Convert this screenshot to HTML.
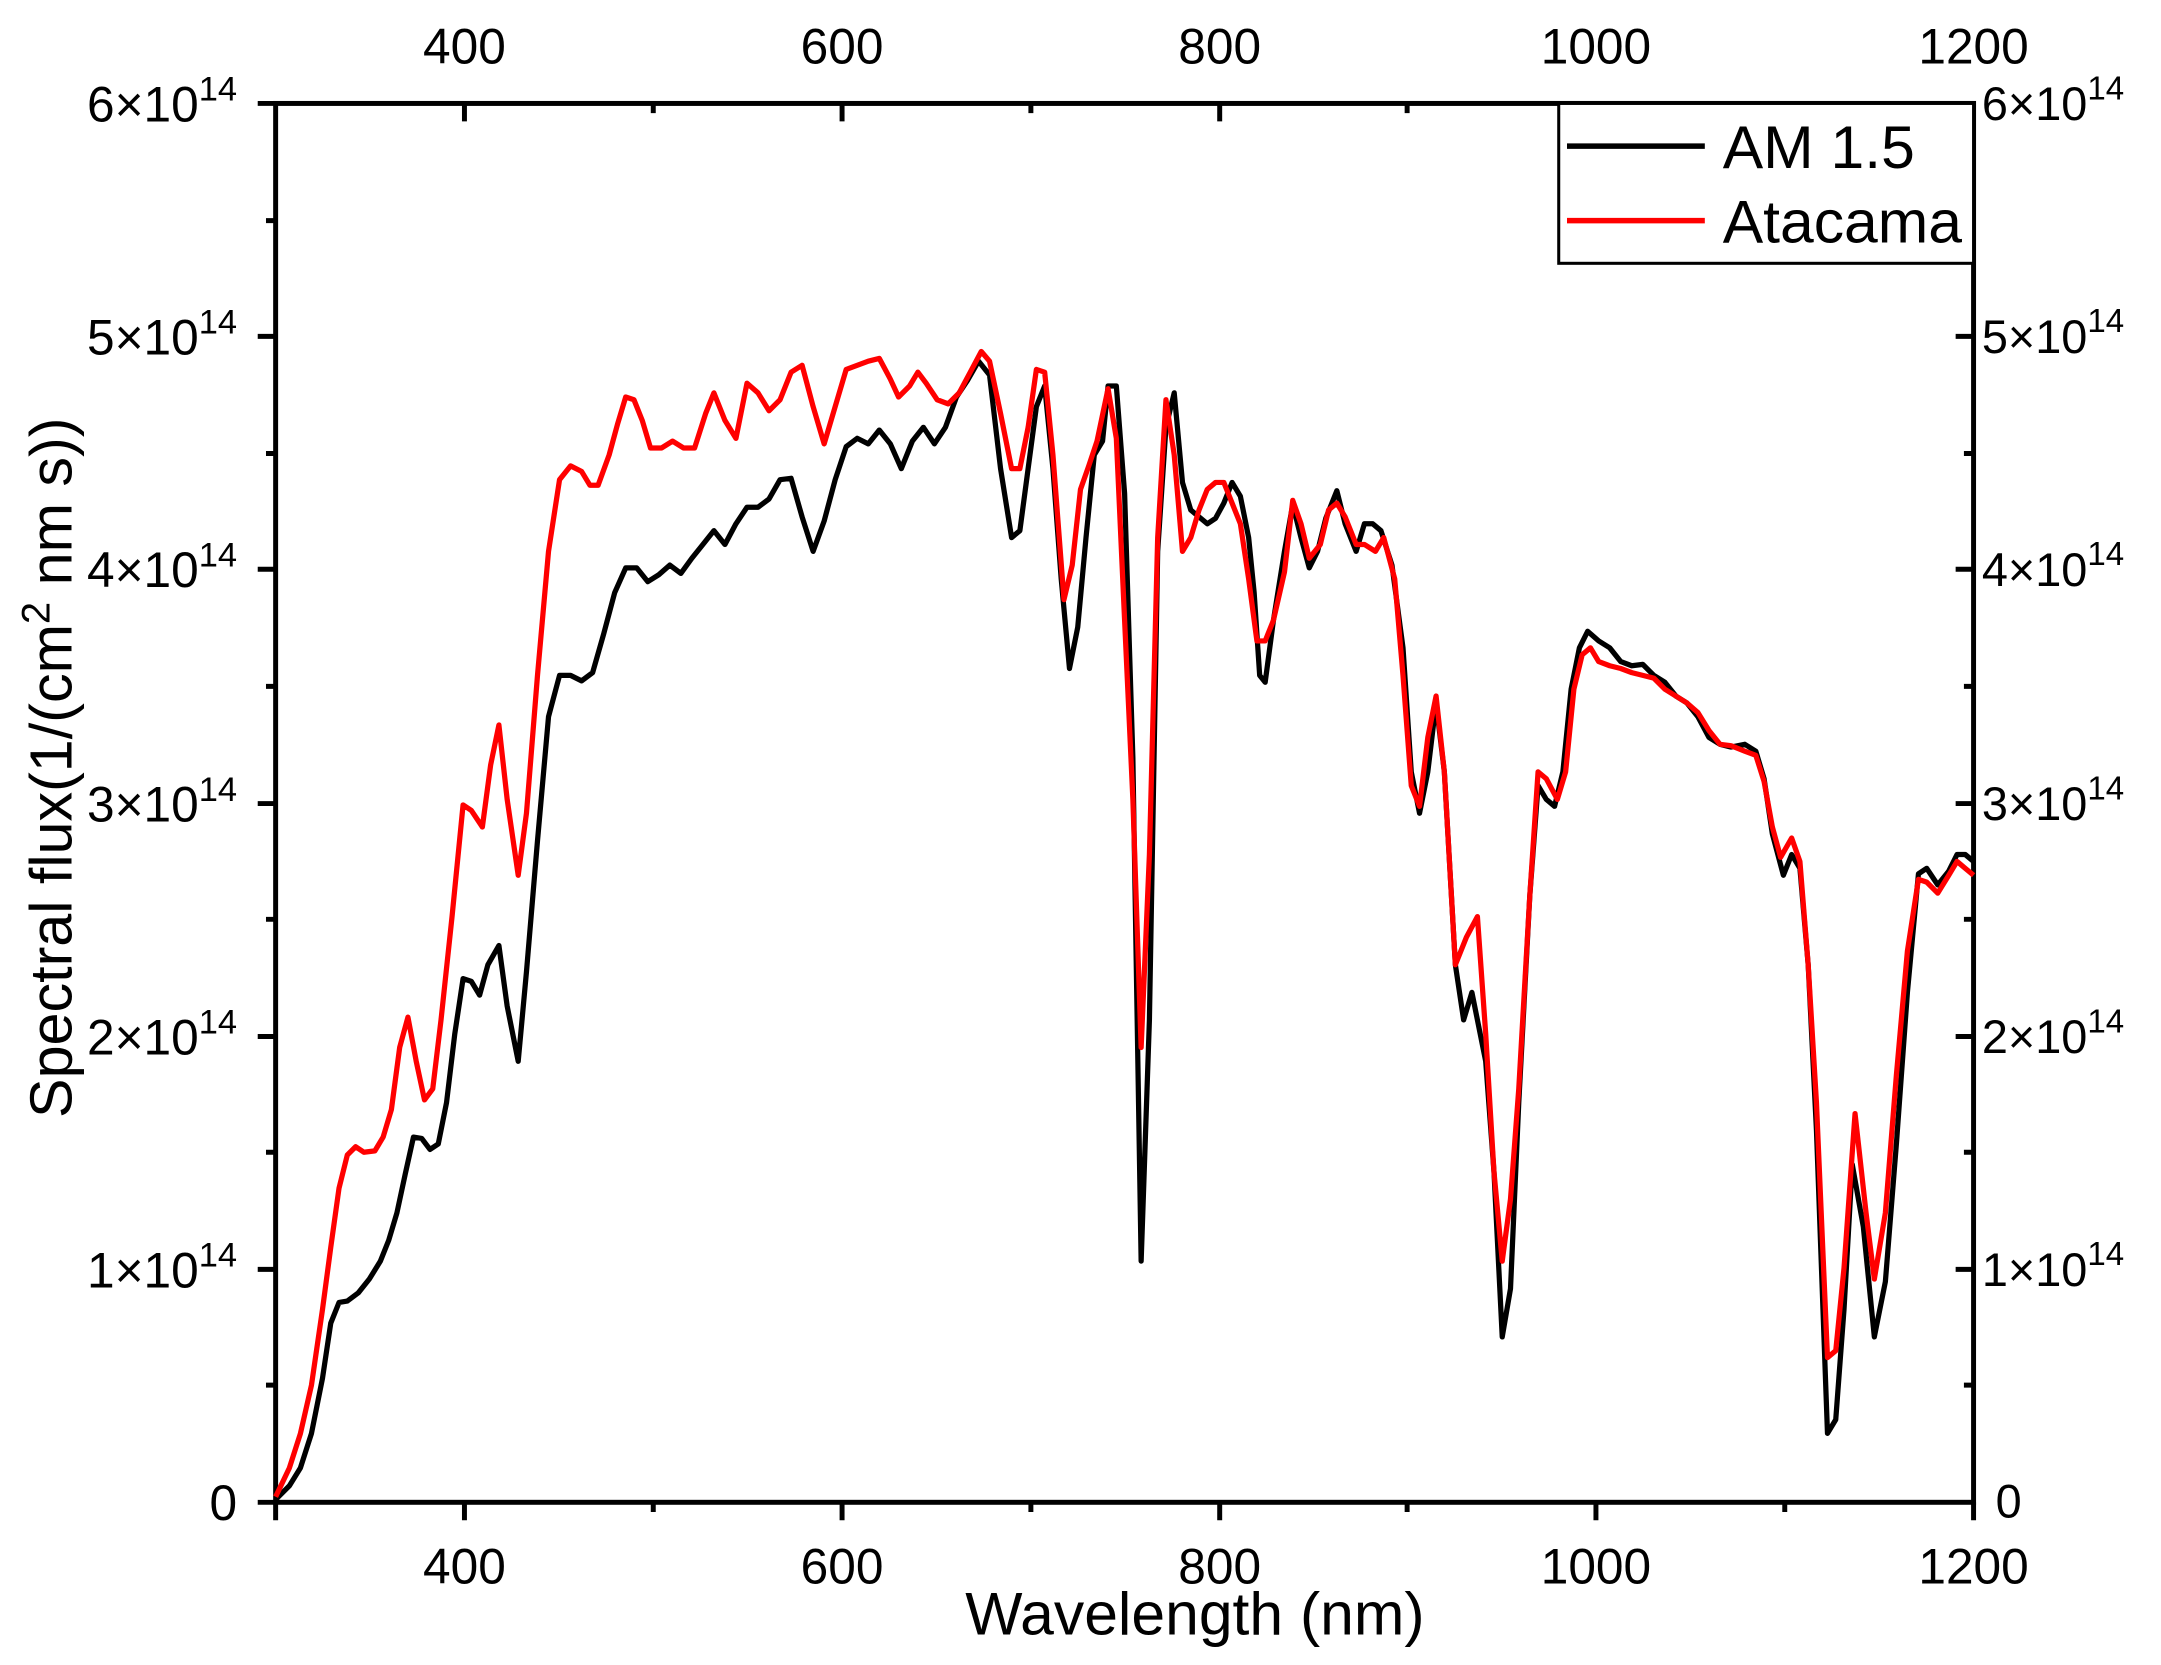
<!DOCTYPE html>
<html><head><meta charset="utf-8"><style>html,body{margin:0;padding:0;background:#fff}svg{display:block}text{font-family:"Liberation Sans",Arial,sans-serif;fill:#000}</style></head><body>
<svg width="2161" height="1665" viewBox="0 0 1568 1208" xmlns="http://www.w3.org/2000/svg">
<g stroke="#000" stroke-width="3.6" fill="none">
<rect x="200" y="75" width="1232" height="1015"/>
<path d="M200 1090v13M337 1090v13M474 1090v7M611 1090v13M748 1090v7M885 1090v13M1021 1090v7M1158 1090v13M1295 1090v7M1432 1090v13"/>
<path d="M337 75v13M474 75v7M611 75v13M748 75v7M885 75v13M1021 75v7M1158 75v13M1295 75v7"/>
<path d="M187 1090h13M193 1005h7M187 921h13M193 836h7M187 752h13M193 667h7M187 583h13M193 498h7M187 413h13M193 329h7M187 244h13M193 160h7M187 75h13"/>
<path d="M1419 921h13M1425 1005h7M1425 836h7M1419 752h13M1425 667h7M1419 583h13M1425 498h7M1419 413h13M1425 329h7M1419 244h13M1425 160h7"/>
</g>
<g font-size="36" text-anchor="middle">
<text x="337" y="46">400</text><text x="611" y="46">600</text><text x="885" y="46">800</text><text x="1158" y="46">1000</text><text x="1432" y="46">1200</text>
<text x="337" y="1149">400</text><text x="611" y="1149">600</text><text x="885" y="1149">800</text><text x="1158" y="1149">1000</text><text x="1432" y="1149">1200</text>
</g>
<g font-size="36" text-anchor="end">
<text x="172" y="1103">0</text>
<text x="172" y="934">1×10<tspan font-size="25" dy="-15">14</tspan></text>
<text x="172" y="765">2×10<tspan font-size="25" dy="-15">14</tspan></text>
<text x="172" y="596">3×10<tspan font-size="25" dy="-15">14</tspan></text>
<text x="172" y="426">4×10<tspan font-size="25" dy="-15">14</tspan></text>
<text x="172" y="257">5×10<tspan font-size="25" dy="-15">14</tspan></text>
<text x="172" y="88">6×10<tspan font-size="25" dy="-15">14</tspan></text>
</g>
<g font-size="34" text-anchor="start">
<text x="1448" y="1101">0</text>
<text x="1438" y="933">1×10<tspan font-size="24" dy="-15">14</tspan></text>
<text x="1438" y="764">2×10<tspan font-size="24" dy="-15">14</tspan></text>
<text x="1438" y="595">3×10<tspan font-size="24" dy="-15">14</tspan></text>
<text x="1438" y="425">4×10<tspan font-size="24" dy="-15">14</tspan></text>
<text x="1438" y="256">5×10<tspan font-size="24" dy="-15">14</tspan></text>
<text x="1438" y="87">6×10<tspan font-size="24" dy="-15">14</tspan></text>
</g>
<text x="867" y="1186" font-size="44" text-anchor="middle">Wavelength (nm)</text>
<text transform="translate(52,557) rotate(-90)" font-size="43" text-anchor="middle">Spectral flux(1/(cm<tspan font-size="29" dy="-16">2</tspan><tspan dy="16"> nm s))</tspan></text>
<g fill="none" stroke-width="3.8" stroke-linejoin="round">
<polyline stroke="#000" points="200,1088 210,1078 218,1065 226,1040 234,1000 240,960 246,945 252,944 260,938 268,928 276,915 282,900 288,880 294,852 300,825 306,826 312,834 318,830 324,800 330,750 336,710 342,712 348,722 354,700 362,686 368,730 376,770 382,705 390,610 398,520 406,490 414,490 422,494 430,488 438,460 446,430 454,412 462,412 470,422 478,417 486,410 494,416 502,405 510,395 518,385 526,395 534,380 542,368 550,368 558,362 566,348 574,347 582,375 590,400 598,378 606,348 614,324 622,318 630,322 638,312 646,322 654,340 662,320 670,310 678,322 686,310 694,288 702,276 710,262 718,272 726,340 734,390 740,385 746,340 752,295 758,280 764,340 770,420 776,485 782,455 788,390 794,330 800,320 804,280 810,280 816,358 822,550 828,915 834,740 840,400 846,310 852,285 858,350 864,370 870,375 876,380 882,376 888,365 894,350 900,360 906,390 910,430 914,490 918,495 924,450 932,400 938,366 944,390 950,412 956,400 962,376 970,356 976,380 984,400 990,380 996,380 1002,385 1010,410 1018,470 1024,560 1030,590 1036,560 1042,510 1048,560 1056,700 1062,740 1068,720 1078,770 1084,850 1090,970 1096,935 1102,800 1110,650 1116,570 1122,580 1128,585 1134,560 1140,500 1146,470 1152,458 1160,465 1168,470 1176,480 1184,483 1192,482 1200,490 1208,495 1216,505 1224,510 1232,520 1240,535 1248,540 1256,542 1266,540 1274,545 1280,565 1286,605 1294,635 1300,620 1306,630 1312,700 1318,820 1326,1040 1332,1030 1338,950 1344,845 1352,890 1360,970 1368,930 1376,830 1384,720 1392,634 1398,630 1406,642 1414,632 1420,620 1426,620 1432,625"/>
<polyline stroke="#f00" points="200,1086 210,1065 218,1040 226,1005 234,950 240,905 246,862 252,838 258,832 264,836 272,835 278,825 284,805 290,760 296,738 302,770 308,798 314,790 320,740 328,665 336,584 342,588 350,600 356,555 362,526 368,580 376,635 382,590 390,490 398,400 406,348 414,338 422,342 428,352 434,352 442,330 448,308 454,288 460,290 466,305 472,325 480,325 488,320 496,325 504,325 512,300 518,285 526,305 534,318 542,278 550,285 558,298 566,290 574,270 582,265 590,295 598,322 606,295 614,268 622,265 630,262 638,260 646,275 652,288 660,280 666,270 672,278 680,290 688,293 696,285 704,270 712,255 718,262 726,300 734,340 740,340 746,310 752,268 758,270 764,330 772,435 778,410 784,355 790,338 796,320 804,282 810,318 816,450 822,580 828,760 834,620 840,390 846,290 852,330 858,400 864,390 870,370 876,355 882,350 888,350 894,365 900,380 906,420 912,465 918,465 924,450 932,415 938,363 944,380 950,405 958,395 964,370 970,365 976,375 984,395 990,395 998,400 1004,390 1012,420 1018,490 1024,570 1030,585 1036,535 1042,505 1048,560 1056,700 1064,680 1072,665 1078,750 1084,850 1090,915 1096,870 1102,790 1110,650 1116,560 1122,565 1130,580 1136,560 1142,500 1148,475 1154,470 1160,480 1168,483 1176,485 1184,488 1192,490 1200,492 1208,500 1216,505 1224,510 1232,517 1240,530 1248,540 1256,541 1266,545 1274,548 1280,567 1286,600 1292,622 1300,608 1306,625 1312,700 1318,800 1326,985 1332,980 1338,920 1346,808 1354,880 1360,928 1368,880 1376,780 1384,690 1392,638 1398,640 1406,648 1414,635 1420,625 1426,630 1432,635"/>
</g>
<rect x="1131" y="75" width="301" height="116" fill="#fff" stroke="#000" stroke-width="2.2"/>
<path d="M1137 106h100" stroke="#000" stroke-width="4"/>
<path d="M1137 160h100" stroke="#f00" stroke-width="4"/>
<text x="1250" y="122" font-size="44">AM 1.5</text>
<text x="1250" y="176" font-size="44">Atacama</text>
</svg>
</body></html>
